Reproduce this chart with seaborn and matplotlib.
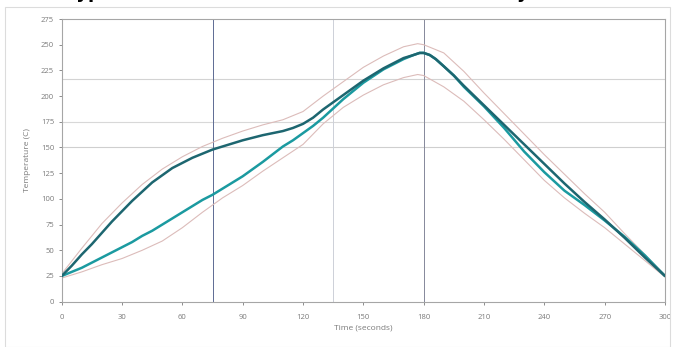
import matplotlib
matplotlib.use("Agg")
import matplotlib.pyplot as plt
import seaborn as sns
import pandas as pd
from matplotlib.patches import Rectangle

sns.set_theme(style="white")
plt.rcParams['font.family'] = ['Open Sans', 'DejaVu Sans']

# --- data ---
time_a = [0, 5, 10, 15, 20, 25, 30, 35, 40, 45, 50, 55, 60, 65, 70, 75, 80, 90, 100, 110, 115, 120, 125, 130,
          140, 150, 160, 165, 170, 175, 178, 180, 183, 186, 190, 195, 200, 210, 220, 230, 240, 250, 260, 270,
          280, 290, 300]
profile_dark = [25, 35, 46, 56, 67, 78, 88, 98, 107, 116, 123, 130, 135, 140, 144, 148, 151, 157, 162, 166, 169,
                173, 179, 187, 201, 215, 227, 232, 237, 240, 242, 242, 240, 236, 229, 220, 210, 191, 172, 153, 134,
                115, 97, 80, 62, 43, 25]
profile_light = [25, 29, 33, 38, 43, 48, 53, 58, 64, 69, 75, 81, 87, 93, 99, 104, 110, 122, 136, 151, 157, 164,
                 171, 179, 197, 213, 226, 231, 236, 240, 242, 242, 240, 236, 229, 220, 209, 190, 169, 146, 126,
                 108, 94, 79, 63, 45, 25]

time_b = [0, 10, 20, 30, 40, 50, 60, 70, 80, 90, 100, 110, 120, 130, 140, 150, 160, 170, 177, 180,
          190, 200, 210, 220, 230, 240, 250, 260, 270, 280, 290, 300]
upper_limit = [27, 52, 76, 96, 114, 129, 141, 151, 159, 166, 172, 177, 185, 200, 214, 228, 239, 248, 251, 250,
               242, 224, 203, 183, 163, 143, 124, 105, 87, 66, 46, 26]
lower_limit = [23, 29, 36, 42, 50, 59, 72, 87, 101, 113, 127, 140, 153, 173, 189, 201, 211, 218, 221, 220,
               209, 195, 177, 158, 138, 118, 101, 86, 72, 56, 40, 24]

x_ticks = [0, 30, 60, 90, 120, 150, 180, 210, 240, 270, 300]
y_ticks = [0, 25, 50, 75, 100, 125, 150, 175, 200, 225, 250, 275]
h_lines = [217, 175, 150]
v_lines = [75, 135, 180]

title = "Typical Reflow Profile for Lead-Free Assembly"

df_a = pd.DataFrame({"t": time_a, "dark": profile_dark, "light": profile_light})
df_b = pd.DataFrame({"t": time_b, "upper": upper_limit, "lower": lower_limit})

fig = plt.figure(figsize=(6.75, 3.47), dpi=100)
ax = fig.add_axes([61.7 / 675, 1 - 301.7 / 347, (665 - 61.7) / 675, (301.7 - 19) / 347])

# outer chart frame
fig.patches.append(Rectangle((5 / 675, 0), 665 / 675, 1 - 7 / 347, transform=fig.transFigure,
                             fill=False, edgecolor='#dcdcdc', linewidth=0.8))

# reference lines
for h, c in zip(h_lines, ['#d3d3d3', '#d8d8d8', '#cfcfcf']):
    ax.axhline(h, color=c, linewidth=0.8, zorder=1)
for v, c in zip(v_lines, ['#5d6b93', '#cdd0d8', '#85889a']):
    ax.axvline(v, color=c, linewidth=0.7, zorder=1)

sns.lineplot(data=df_b, x="t", y="upper", ax=ax, color='#dcbcba', linewidth=0.8, zorder=2)
sns.lineplot(data=df_b, x="t", y="lower", ax=ax, color='#dcbcba', linewidth=0.8, zorder=2)
sns.lineplot(data=df_a, x="t", y="light", ax=ax, color='#1b9aa0', linewidth=1.8, zorder=3)
sns.lineplot(data=df_a, x="t", y="dark", ax=ax, color='#1d6670', linewidth=1.8, zorder=4)
for ln in ax.get_lines():
    ln.set_solid_joinstyle('round')

ax.set_xlim(0, 300)
ax.set_ylim(0, 275)
ax.set_xticks(x_ticks)
ax.set_yticks(y_ticks)
ax.tick_params(axis='both', labelsize=5.5, colors='#7a7a7a', length=2.5, width=0.6, pad=3)
ax.tick_params(axis='x', bottom=True, pad=6)
ax.tick_params(axis='y', left=True)
for s in ax.spines.values():
    s.set_color('#a6a6a6')
    s.set_linewidth(0.8)
ax.set_xlabel("Time (seconds)", fontsize=6, color='#7a7a7a', labelpad=3)
ax.set_ylabel("Temperature (C)", fontsize=6, color='#7a7a7a', labelpad=7)

# title, clipped by the top edge as in the reference (only descenders show)
fig.text(66 / 675, 1 + 1.5 / 347, title, fontsize=13, fontweight='bold', color='black',
         ha='left', va='baseline', family=['DejaVu Sans'])

fig.savefig("out.png", dpi=100)
